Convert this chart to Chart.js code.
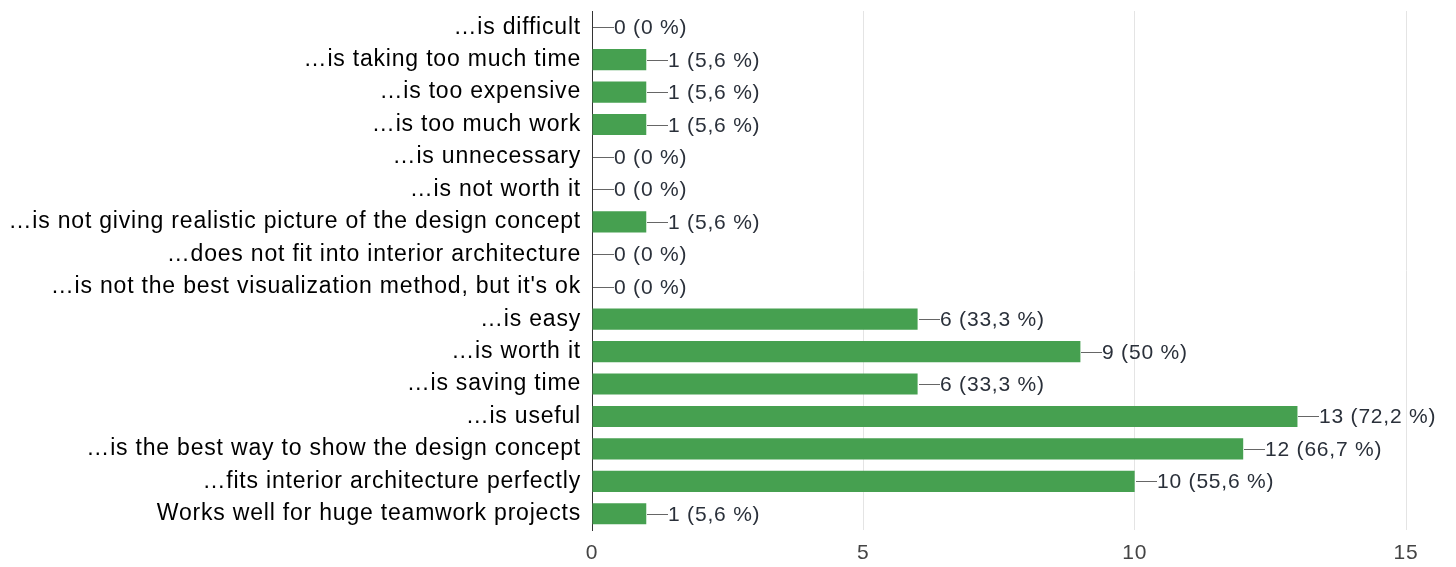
<!DOCTYPE html>
<html>
<head>
<meta charset="utf-8">
<script src="https://cdn.jsdelivr.net/npm/chart.js@4.4.1/dist/chart.umd.min.js"></script>
<style>
  html, body { margin: 0; padding: 0; background: #ffffff; }
  #wrap { width: 1456px; height: 567px; position: relative; }
</style>
</head>
<body>
<div id="wrap"><canvas id="c" width="1456" height="567"></canvas></div>
<script>
// Answer options, top to bottom
const categories = [
  "…is difficult",
  "…is taking too much time",
  "…is too expensive",
  "…is too much work",
  "…is unnecessary",
  "…is not worth it",
  "…is not giving realistic picture of the design concept",
  "…does not fit into interior architecture",
  "…is not the best visualization method, but it's ok",
  "…is easy",
  "…is worth it",
  "…is saving time",
  "…is useful",
  "…is the best way to show the design concept",
  "…fits interior architecture perfectly",
  "Works well for huge teamwork projects"
];

// Number of respondents choosing each option
const counts = [0, 1, 1, 1, 0, 0, 1, 0, 0, 6, 9, 6, 13, 12, 10, 1];

// Share of respondents, as printed next to each bar
const percents = ["0", "5,6", "5,6", "5,6", "0", "0", "5,6", "0", "0", "33,3", "50", "33,3", "72,2", "66,7", "55,6", "5,6"];

// Value axis ticks
const xTicks = [0, 5, 10, 15];

const FONT = "'Liberation Sans', Arial, sans-serif";
const SPACING = '0.8px';

// Slightly wider letter spacing for every text drawn on the canvas
const textSpacing = {
  id: 'textSpacing',
  beforeDraw(chart) { chart.ctx.letterSpacing = SPACING; }
};

// Draws a short leader line after each bar followed by "count (percent %)"
const valueLabels = {
  id: 'valueLabels',
  afterDatasetsDraw(chart) {
    const ctx = chart.ctx;
    const meta = chart.getDatasetMeta(0);
    ctx.save();
    ctx.letterSpacing = SPACING;
    ctx.font = "21px " + FONT;
    ctx.textBaseline = 'middle';
    ctx.textAlign = 'left';
    meta.data.forEach((bar, i) => {
      const x0 = Math.round(bar.x) + 1;
      const y = Math.round(bar.y) + 0.5;
      ctx.strokeStyle = '#666666';
      ctx.lineWidth = 1;
      ctx.beginPath();
      ctx.moveTo(x0, y);
      ctx.lineTo(x0 + 21, y);
      ctx.stroke();
      ctx.fillStyle = '#2a303a';
      ctx.fillText(counts[i] + " (" + percents[i] + " %)", x0 + 21, y + 1);
    });
    ctx.restore();
  }
};

new Chart(document.getElementById('c'), {
  type: 'bar',
  data: {
    labels: categories,
    datasets: [{
      data: counts,
      backgroundColor: '#46a050',
      borderWidth: 0,
      categoryPercentage: 1.0,
      barPercentage: 0.65
    }]
  },
  options: {
    indexAxis: 'y',
    responsive: false,
    animation: false,
    layout: { padding: { top: 11, right: 50, bottom: 0, left: 0 } },
    plugins: {
      legend: { display: false },
      tooltip: { enabled: false }
    },
    scales: {
      x: {
        min: 0,
        max: 15,
        afterBuildTicks(scale) { scale.ticks = xTicks.map(v => ({ value: v })); },
        afterFit(scale) { scale.height = 37; },
        grid: { color: '#e4e4e4', lineWidth: 1, drawTicks: false },
        border: { display: false },
        ticks: {
          font: { family: FONT, size: 21 },
          color: '#444444',
          padding: 11
        }
      },
      y: {
        afterFit(scale) {
          scale.width = 592;
          scale.paddingTop = 0;
          scale.paddingBottom = 0;
        },
        grid: { display: false, drawTicks: false },
        border: { display: true, color: '#333333', width: 1 },
        ticks: {
          font: { family: FONT, size: 23 },
          color: '#000000',
          padding: 11,
          autoSkip: false
        }
      }
    }
  },
  plugins: [textSpacing, valueLabels]
});
</script>
</body>
</html>
